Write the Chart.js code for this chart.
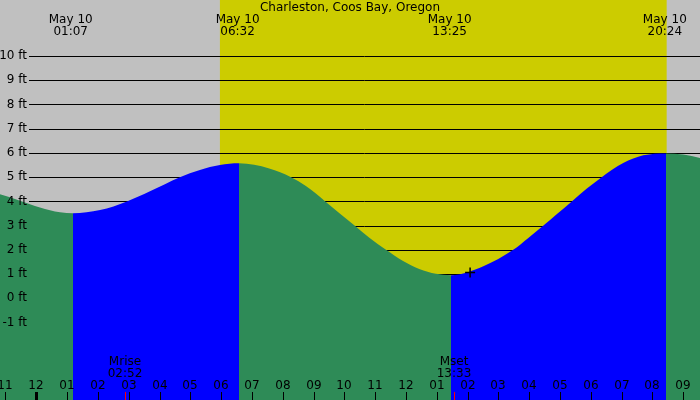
<!DOCTYPE html>
<html>
<head>
<meta charset="utf-8">
<title>Charleston, Coos Bay, Oregon</title>
<script src="https://cdn.jsdelivr.net/npm/chart.js"></script>
<style>
  html, body { margin: 0; padding: 0; background: #c0c0c0; }
  #wrap { width: 700px; height: 400px; position: relative; }
</style>
</head>
<body>
<div id="wrap"><canvas id="tideChart"></canvas></div>
<script>
  const stationName = 'Charleston, Coos Bay, Oregon';
  const dayLabel = 'May 10';

  // tide curve (hours after midnight May 10, feet)
  const tideHours = [-1.178, -0.53, 0.12, 0.77, 1.1914, 2.07, 2.94, 3.69, 4.66, 5.31, 5.96, 6.5793,
                     7.56, 8.27, 8.75, 9.38, 9.83, 10.35, 10.81, 11.35, 11.89, 12.43, 12.97, 13.4602,
                     14.51, 15.48, 15.97, 16.46, 16.89, 17.38, 17.86, 18.35, 19.05, 19.70, 20.4384,
                     21.00, 21.542];
  const tideFeet  = [4.29, 4.03, 3.75, 3.55, 3.51, 3.64, 4.00, 4.42, 5.00, 5.30, 5.50, 5.57,
                     5.36, 5.00, 4.63, 4.00, 3.52, 2.98, 2.50, 2.00, 1.55, 1.21, 1.01, 0.95,
                     1.32, 2.00, 2.49, 3.00, 3.47, 4.00, 4.52, 5.00, 5.58, 5.90, 5.98,
                     5.93, 5.79];

  // high / low tide times printed at the top
  const extremeTimes = ['01:07', '06:32', '13:25', '20:24'];

  // moon rise / set printed at the bottom
  const moonNames = ['Mrise', 'Mset'];
  const moonTimes = ['02:52', '13:33'];

  // daylight (yellow band), hours
  const sunHours = [5.96, 20.46];

  // the "+" marker
  const markerHour = 14.08;
  const markerFeet = 1.07;

  // axes
  const feetTicks = [-1, 0, 1, 2, 3, 4, 5, 6, 7, 8, 9, 10];
  const hourTicks = [-1, 0, 1, 2, 3, 4, 5, 6, 7, 8, 9, 10, 11, 12, 13, 14, 15, 16, 17, 18, 19, 20, 21];
  const hourLabels = ['11', '12', '01', '02', '03', '04', '05', '06', '07', '08', '09', '10', '11',
                      '12', '01', '02', '03', '04', '05', '06', '07', '08', '09'];

  const GREY = '#c0c0c0';
  const YELLOW = '#cccc00';
  const GREEN = '#2e8b57';
  const BLUE = '#0000ff';
  const FONT = '12px "DejaVu Sans"';

  function toHours(s) {
    const [h, m] = s.split(':').map(Number);
    return h + m / 60;
  }

  const tideDecor = {
    id: 'tideDecor',
    beforeDraw(chart) {
      const {ctx, scales: {x}} = chart;
      ctx.save();
      ctx.fillStyle = GREY;
      ctx.fillRect(0, 0, chart.width, chart.height);
      const x0 = x.getPixelForValue(sunHours[0]);
      const x1 = x.getPixelForValue(sunHours[1]);
      ctx.fillStyle = YELLOW;
      ctx.fillRect(x0, 0, x1 - x0, chart.height);
      ctx.restore();
    },
    beforeDatasetsDraw(chart) {
      const {ctx, scales: {y}} = chart;
      ctx.save();
      ctx.strokeStyle = '#000';
      ctx.lineWidth = 1;
      feetTicks.forEach(f => {
        const py = Math.round(y.getPixelForValue(f)) + 0.5;
        ctx.beginPath();
        ctx.moveTo(29, py);
        ctx.lineTo(chart.width, py);
        ctx.stroke();
      });
      ctx.restore();
    },
    afterDatasetsDraw(chart) {
      const {ctx, scales: {x, y}} = chart;
      const H = chart.height;
      ctx.save();
      ctx.font = FONT;
      ctx.fillStyle = '#000';

      // feet labels
      ctx.textAlign = 'right';
      ctx.textBaseline = 'middle';
      feetTicks.forEach(f => {
        ctx.fillText(f + ' ft', 27, y.getPixelForValue(f));
      });

      // hour ticks and labels
      ctx.textAlign = 'center';
      ctx.strokeStyle = '#000';
      hourTicks.forEach((h, i) => {
        const px = Math.round(x.getPixelForValue(h));
        ctx.lineWidth = h === 0 ? 3 : 1;
        ctx.beginPath();
        ctx.moveTo(px + 0.5, H - 8);
        ctx.lineTo(px + 0.5, H);
        ctx.stroke();
        ctx.fillText(hourLabels[i], px, H - 14.5);
      });

      // moon rise / set
      moonTimes.forEach((t, i) => {
        const px = Math.round(x.getPixelForValue(toHours(t)));
        ctx.strokeStyle = '#ff0000';
        ctx.lineWidth = 1;
        ctx.beginPath();
        ctx.moveTo(px + 0.5, H - 8);
        ctx.lineTo(px + 0.5, H);
        ctx.stroke();
        ctx.fillText(moonNames[i], px, H - 38.5);
        ctx.fillText(t, px, H - 26.5);
      });

      // high / low labels
      extremeTimes.forEach(t => {
        const px = x.getPixelForValue(toHours(t));
        ctx.fillText(dayLabel, px, 20);
        ctx.fillText(t, px, 31.5);
      });

      // title
      ctx.fillText(stationName, chart.width / 2, 7.5);
      ctx.restore();
    }
  };

  new Chart(document.getElementById('tideChart'), {
    type: 'line',
    data: {
      datasets: [
        {
          type: 'scatter',
          data: [{x: markerHour, y: markerFeet}],
          pointStyle: 'cross',
          pointRadius: 5,
          borderColor: '#000',
          borderWidth: 1.5,
          order: 0
        },
        {
          label: 'Tide',
          data: tideHours.map((h, i) => ({x: h, y: tideFeet[i]})),
          fill: 'start',
          backgroundColor: GREEN,
          borderColor: 'rgba(0,0,0,0)',
          borderWidth: 0,
          pointRadius: 0,
          cubicInterpolationMode: 'monotone',
          segment: {
            // rising tide is blue, falling tide green
            backgroundColor: c => c.p1.parsed.y > c.p0.parsed.y ? BLUE : GREEN
          },
          order: 1
        }
      ]
    },
    options: {
      responsive: true,
      maintainAspectRatio: false,
      animation: false,
      layout: { padding: 0, autoPadding: false },
      plugins: {
        legend: { display: false },
        tooltip: { enabled: false }
      },
      scales: {
        x: { type: 'linear', min: -1.178, max: 21.542, display: false },
        y: { type: 'linear', min: -4.197, max: 12.311, display: false }
      }
    },
    plugins: [tideDecor]
  });
</script>
</body>
</html>
